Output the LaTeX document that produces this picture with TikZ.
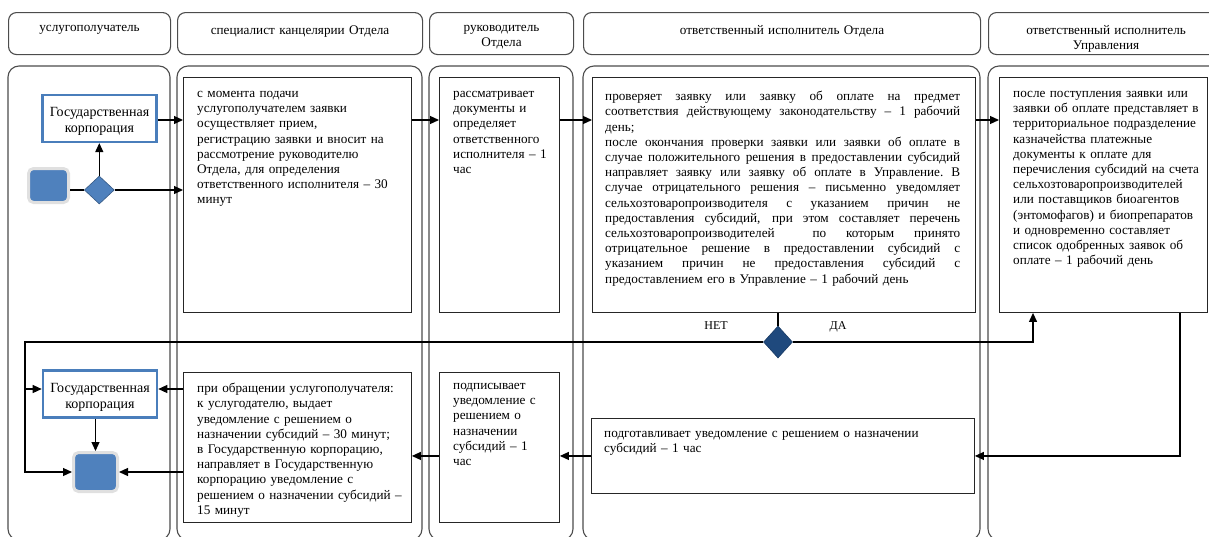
\documentclass[tikz,border=0pt]{standalone}
\usepackage{fontspec}
\setmainfont{Liberation Serif}
\usetikzlibrary{arrows.meta,positioning,shapes.geometric}
\definecolor{gkblue}{HTML}{4A7EBB}
\definecolor{termblue}{HTML}{4F81BD}
\definecolor{navy}{HTML}{1F497D}
\newcommand{\bodyfont}{\fontsize{13.2}{15.2}\selectfont}
\newcommand{\toptext}[3]{\parbox[t][#1][t]{\linewidth}{\vspace*{#2}#3}}
\newlength{\jwidth}
\setlength{\jwidth}{355pt}
\newcommand{\jline}[1]{\makebox[\jwidth][s]{\spaceskip=3.3pt plus 1fil\xspaceskip=3.3pt plus 1fil #1}\\}

\begin{document}
\begin{tikzpicture}[
    x=1pt, y=-1pt,
    lane/.style={draw=black!70, line width=1.1pt, rounded corners=11pt},
    head/.style={draw=black!70, line width=1.1pt, rounded corners=8pt, anchor=north west,
                 inner xsep=4pt, inner ysep=7pt, align=center, font=\bodyfont},
    stepbox/.style={draw=black!85, line width=0.9pt, anchor=north west, inner sep=0pt},
    txt/.style={anchor=north west, inner sep=0pt, align=left, font=\bodyfont},
    gk/.style={draw=gkblue, line width=2.6pt, fill=white,
                 minimum width=114, minimum height=47, inner sep=0pt},
    gktxt/.style={align=center, inner sep=0pt, font=\fontsize{14}{16}\selectfont},
    term/.style={fill=termblue, draw=black!12, line width=3pt, rounded corners=5pt,
                 minimum width=40, minimum height=34},
    gate/.style={diamond, draw=termblue!70!black, fill=termblue, line width=0.6pt,
                 minimum width=30, minimum height=28, inner sep=0pt},
    flow/.style={-{Triangle[length=9pt, width=8pt]}, line width=1.2pt},
    link/.style={line width=1.2pt},
    tag/.style={font=\fontsize{12}{14}\selectfont, inner sep=1pt},
  ]
    \clip (0,0) rectangle (1209,536);

    % ---- swimlane headers ----
    \node[head, text width=154] (h1) at (8,12)   {\toptext{28pt}{6pt}{\centering услугополучатель}};
    \node[head, text width=237] (h2) at (177,12) {\toptext{28pt}{6pt}{\centering специалист канцелярии Отдела}};
    \node[head, text width=136] (h3) at (429,12) {\toptext{28pt}{6pt}{\centering руководитель\\Отдела}};
    \node[head, text width=389] (h4) at (583,12) {\toptext{28pt}{6pt}{\centering ответственный исполнитель Отдела}};
    \node[head, text width=227] (h5) at (988,12) {\toptext{28pt}{6pt}{\centering ответственный исполнитель\\Управления}};

    % ---- swimlanes ----
    \draw[lane] (8,66) rectangle (170,540);
    \draw[lane] (177,66) rectangle (422,540);
    \draw[lane] (429,66) rectangle (573,540);
    \draw[lane] (583,66) rectangle (980,540);
    \draw[lane] (988,66) rectangle (1230,540);

    % ---- first lane: start, gate, corporation ----
    \node[gk] (gk1) at (99.5,118.3) {};
    \node[gktxt] (gk1t) at ([shift={(0,3)}]gk1.center) {Государственная\\корпорация};
    \node[term] (s1) at (48.5,185.5) {};
    \node[gate] (d1) at (99.3,190) {};
    \node[gk] (gk2) at (100,394) {};
    \node[gktxt] (gk2t) at ([shift={(0,3)}]gk2.center) {Государственная\\корпорация};
    \node[term, minimum width=44, minimum height=39] (e1) at (95.5,472) {};

    % ---- top row of steps ----
    \node[stepbox, minimum width=228, minimum height=235] (b1) at (183,77) {};
    \node[stepbox, minimum width=120, minimum height=235] (b3) at (439,77) {};
    \node[stepbox, minimum width=383, minimum height=235] (b4) at (592,77) {};
    \node[stepbox, minimum width=208, minimum height=235] (b5) at (999,77) {};

    \node[txt, text width=215] (b1t) at ([shift={(14,14)}]b1.north west) {%
        с момента подачи\\
        услугополучателем заявки\\
        осуществляет прием,\\
        регистрацию заявки и вносит на\\
        рассмотрение руководителю\\
        Отдела, для определения\\
        ответственного исполнителя – 30\\
        минут};
    \node[txt, text width=105] (b3t) at ([shift={(14,14)}]b3.north west) {%
        рассматривает\\
        документы и\\
        определяет\\
        ответственного\\
        исполнителя – 1\\
        час};
    \node[txt, text width=356] (b4t) at ([shift={(13,14)}]b4.north west) {%
        \jline{проверяет заявку или заявку об оплате на предмет}
        \jline{соответствия действующему законодательству – 1 рабочий}
        день;\\
        \jline{после окончания проверки заявки или заявки об оплате в}
        \jline{случае положительного решения в предоставлении субсидий}
        \jline{направляет заявку или заявку об оплате в Управление. В}
        \jline{случае отрицательного решения – письменно уведомляет}
        \jline{сельхозтоваропроизводителя с указанием причин не}
        \jline{предоставления субсидий, при этом составляет перечень}
        \jline{сельхозтоваропроизводителей\hspace{18pt} по которым принято}
        \jline{отрицательное решение в предоставлении субсидий с}
        \jline{указанием причин не предоставления субсидий с}
        предоставлением его в Управление – 1 рабочий день};
    \node[txt, text width=195] (b5t) at ([shift={(14,14)}]b5.north west) {%
        после поступления заявки или\\
        заявки об оплате представляет в\\
        территориальное подразделение\\
        казначейства платежные\\
        документы к оплате для\\
        перечисления субсидий на счета\\
        сельхозтоваропроизводителей\\
        или поставщиков биоагентов\\
        (энтомофагов) и биопрепаратов\\
        и одновременно составляет\\
        список одобренных заявок об\\
        оплате – 1 рабочий день};

    % ---- decision ----
    \node[gate, fill=navy, draw=navy!80!black, minimum width=29, minimum height=32] (d2) at (778,342) {};
    \node[tag] (nolbl) at (716,326) {НЕТ};
    \node[tag] (yeslbl) at (838,327) {ДА};

    % ---- bottom row of steps ----
    \node[stepbox, minimum width=228, minimum height=150] (b2) at (183,372) {};
    \node[stepbox, minimum width=120, minimum height=150] (b6) at (439,372) {};
    \node[stepbox, minimum width=383, minimum height=75] (b7) at (591,418) {};

    \node[txt, text width=215] (b2t) at ([shift={(14,11)}]b2.north west) {%
        при обращении услугополучателя:\\
        к услугодателю, выдает\\
        уведомление с решением о\\
        назначении субсидий – 30 минут;\\
        в Государственную корпорацию,\\
        направляет в Государственную\\
        корпорацию уведомление с\\
        решением о назначении субсидий –\\
        15 минут};
    \node[txt, text width=105] (b6t) at ([shift={(14,11)}]b6.north west) {%
        подписывает\\
        уведомление с\\
        решением о\\
        назначении\\
        субсидий – 1\\
        час};
    \node[txt, text width=356] (b7t) at ([shift={(13,13)}]b7.north west) {%
        подготавливает уведомление с решением о назначении\\
        субсидий – 1 час};

    % ---- connectors ----
    \coordinate (row1) at (0,120);
    \coordinate (row2) at (0,389);
    \coordinate (yes) at (1033,0);
    \coordinate (no) at (25,0);
    \coordinate (back) at (1180,0);

    \draw[flow] (gk1.east |- row1) -- (b1.west |- row1);
    \draw[link] (s1.east |- d1.west) -- (d1.west);
    \draw[flow] (d1.east) -- (d1.east -| b1.west);
    \draw[flow] (d1.north) -- (d1.north |- gk1.south);
    \draw[flow] (b1.east |- row1) -- (b3.west |- row1);
    \draw[flow] (b3.east |- row1) -- (b4.west |- row1);
    \draw[flow] (b4.east |- row1) -- (b5.west |- row1);
    \draw[link] (d2.north |- b4.south) -- (d2.north);
    \draw[flow] (d2.east) -| (yes |- b5.south);
    \draw[flow] (d2.west) -| (no |- e1.west) -- (e1.west);
    \draw[flow] (no |- row2) -- (gk2.west |- row2);
    \draw[flow] (back |- b5.south) |- (b7.east);
    \draw[flow] (b7.west) -- (b7.west -| b6.east);
    \draw[flow] (b6.west |- b7.west) -- (b7.west -| b2.east);
    \draw[flow] (b2.west |- row2) -- (gk2.east |- row2);
    \draw[flow] (e1.east -| b2.west) -- (e1.east);
    \draw[flow] (e1.north |- gk2.south) -- (e1.north);
\end{tikzpicture}
\end{document}
